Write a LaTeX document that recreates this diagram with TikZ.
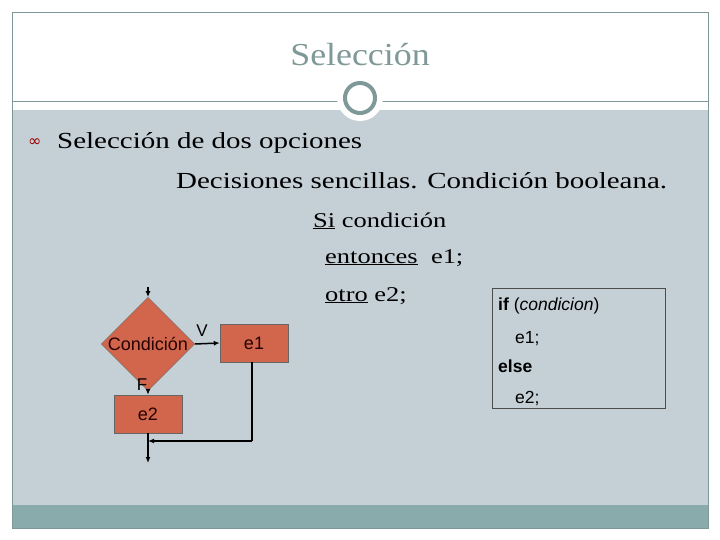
\documentclass[tikz,border=0pt]{standalone}
\usepackage{fontspec}
\setmainfont{Liberation Serif}[FakeStretch=1.26]
\newfontfamily\ttlf{Liberation Serif}[FakeStretch=1.12]
\newfontfamily\arialf{Liberation Sans}
\newfontfamily\djv{DejaVu Sans}
\usetikzlibrary{shapes.geometric,arrows.meta}
\definecolor{bg}{HTML}{C5D0D6}
\definecolor{band}{HTML}{8AABAB}
\definecolor{ttl}{HTML}{7F9898}
\definecolor{flow}{HTML}{D2664C}
\tikzset{
 fbox/.style={draw=black!60,fill=flow,minimum width=68pt,minimum height=38pt,font=\arialf\fontsize{18}{18}\selectfont,text=black!85!red},
 conn/.style={line width=1.5pt,-{Latex[length=6pt,width=5pt]}},
 body/.style={anchor=base west,inner sep=0pt},
 code/.style={anchor=base west,inner sep=0pt,font=\arialf\fontsize{17.5}{17.5}\selectfont}
}
\begin{document}
\begin{tikzpicture}[x=1pt,y=-1pt]
\useasboundingbox (0,0) rectangle (720,540);
\fill[white] (0,0) rectangle (720,540);
\fill[bg] (12,110) rectangle (708,505);
\fill[band] (12,505) rectangle (708,528);
\draw[ttl,line width=0.8pt] (12,12) rectangle (708,528);
\draw[ttl,line width=0.8pt] (12,101) -- (708,101);
\fill[white] (360,98) circle (23);
\draw[ttl,line width=4pt] (360,98) circle (15);
\node (title) at (360,55) {\color{ttl}\ttlf\fontsize{32}{32}\selectfont Selección};
\node[body,text=red!60!black] (bul) at (28,147) {\djv\fontsize{16}{16}\selectfont ∞};
\node[body] (l1) at (57,149) {\fontsize{23}{23}\selectfont Selección de dos opciones};
\node[body] (l2) at (176,189) {\fontsize{23}{23}\selectfont Decisiones sencillas. Condición booleana.};
\node[body] (l3) at (313,227) {\fontsize{21}{21}\selectfont \underline{Si} condición};
\node[body] (l4) at (325,263) {\fontsize{21}{21}\selectfont \underline{entonces} \ e1;};
\node[body] (l5) at (325,301) {\fontsize{21}{21}\selectfont \underline{otro} e2;};
\node[draw=black!70,line width=0.8pt,minimum width=173pt,minimum height=120pt] (cbox) at (578.5,348) {};
\node[code] (c1) at (498,310) {\textbf{if} (\textit{condicion})};
\node[code] (c2) at (515,343) {e1;};
\node[code] (c3) at (498,372) {\textbf{else}};
\node[code] (c4) at (515,403) {e2;};
\coordinate (top) at (148,287);
\node[diamond,draw=black!60,fill=flow,minimum width=90pt,minimum height=62pt,inner sep=0pt,font=\arialf\fontsize{18}{18}\selectfont,text=black!85!red] (d) at (148,344) {Condición};
\node[fbox] (e1) at (254,343) {e1};
\node[fbox] (e2) at (148,414) {e2};
\node[font=\arialf\fontsize{17}{17}\selectfont] (v) at (202,331) {V};
\node[font=\arialf\fontsize{17}{17}\selectfont] (f) at (142,385) {F};
\coordinate (join) at (148,441);
\coordinate (bend) at (252,441);
\coordinate (end) at (148,463);
\draw[conn] (top) -- (d.north);
\draw[conn] (d.east) -- (e1.west);
\draw[conn] (d.south) -- (e2.north);
\draw[line width=1.5pt] (e1.south -| bend) -- (bend);
\draw[conn] (bend) -- (join);
\draw[conn] (e2.south) -- (end);
\end{tikzpicture}
\end{document}
